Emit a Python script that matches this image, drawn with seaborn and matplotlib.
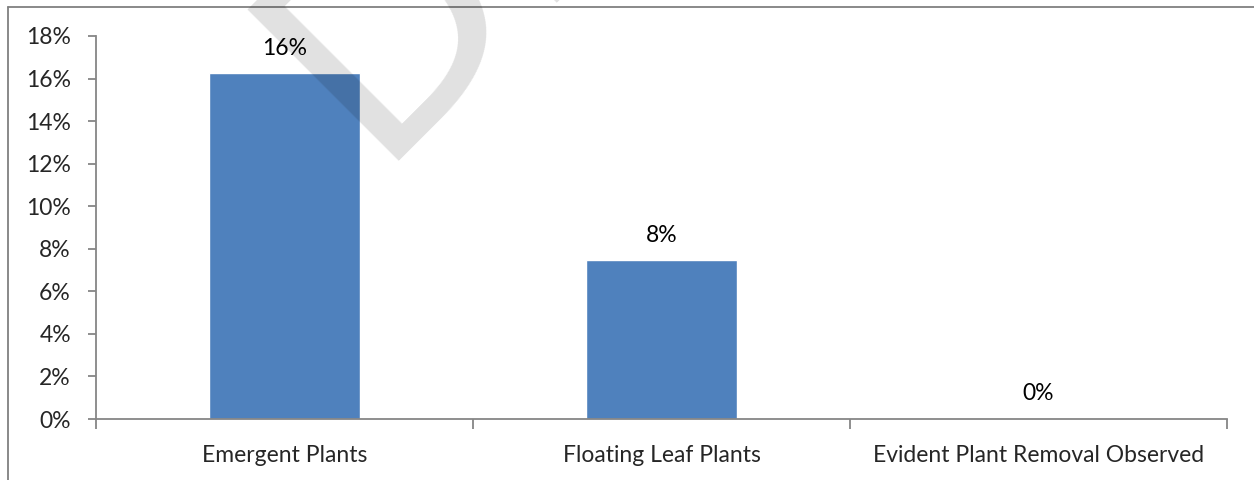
import matplotlib
matplotlib.use("Agg")
import matplotlib.pyplot as plt
import seaborn as sns
import pandas as pd
from matplotlib.lines import Line2D
from matplotlib.ticker import PercentFormatter

# Données du graphique
categories = ["Emergent Plants", "Floating Leaf Plants", "Evident Plant Removal Observed"]
values = [0.1624, 0.0746, 0.0]
labels = ["16%", "8%", "0%"]

sns.set_theme(style="white")
plt.rcParams["font.family"] = ["Lato", "DejaVu Sans"]

df = pd.DataFrame({"categorie": categories, "valeur": values})

fig = plt.figure(figsize=(12.54, 4.8), dpi=100)
ax = fig.add_axes([96 / 1254, 1 - 419 / 480, (1227 - 96) / 1254, (419 - 36) / 480])

sns.barplot(data=df, x="categorie", y="valeur", color="#4F81BD", width=0.4,
            saturation=1, ax=ax)

ax.set_ylim(0, 0.18)
ax.set_xlim(-0.5, 2.5)
ax.set_yticks([i * 0.02 for i in range(10)])
ax.yaxis.set_major_formatter(PercentFormatter(1.0, decimals=0))
ax.set_xlabel("")
ax.set_ylabel("")

# étiquettes de valeurs
for i, (v, lab) in enumerate(zip(values, labels)):
    ax.annotate(lab, (i, v), xytext=(0, 18), textcoords="offset points",
                ha="center", va="center", fontsize=16.5, color="black")

# axes style Excel
axis_col = "#868686"
for s in ["top", "right"]:
    ax.spines[s].set_visible(False)
for s in ["left", "bottom"]:
    ax.spines[s].set_color(axis_col)
    ax.spines[s].set_linewidth(1.3)

ax.tick_params(axis="y", which="major", direction="out", length=6, width=1.3,
               color=axis_col, labelsize=16.5, pad=12, left=True)
ax.tick_params(axis="x", which="major", length=0, labelsize=16.5, pad=19)
ax.set_xticks([-0.5, 0.5, 1.5, 2.5], minor=True)
ax.tick_params(axis="x", which="minor", direction="out", length=7, width=1.3,
               color=axis_col, bottom=True)

# filigrane "DRAFT"
fig.text(370 / 1254, 1 - 161 / 480, "DRAFT", rotation=45, rotation_mode="anchor",
         ha="left", va="baseline", fontsize=210, color="black", alpha=0.12,
         family="DejaVu Sans", zorder=10)

# cadre (bord gauche et haut seulement)
fig.add_artist(Line2D([8 / 1254, 8 / 1254], [0, 1 - 7 / 480], transform=fig.transFigure,
                      color="#808080", linewidth=1.3))
fig.add_artist(Line2D([8 / 1254, 1], [1 - 7 / 480, 1 - 7 / 480], transform=fig.transFigure,
                      color="#808080", linewidth=1.3))

fig.savefig("out.png", dpi=100)
